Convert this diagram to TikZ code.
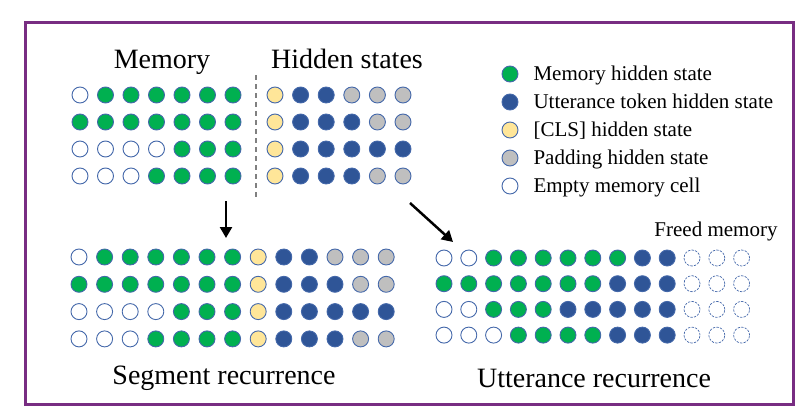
\documentclass[tikz,border=0pt]{standalone}
\usepackage{fontspec}
\setmainfont{Liberation Serif}
\usetikzlibrary{arrows.meta}
\definecolor{memgreen}{RGB}{0,176,80}
\definecolor{uttblue}{RGB}{47,85,151}
\definecolor{clsyellow}{RGB}{255,230,153}
\definecolor{padgray}{RGB}{191,191,191}
\definecolor{rimblue}{RGB}{68,104,170}
\definecolor{framepurple}{RGB}{120,45,130}
\tikzset{
	cell/.style={circle,draw=rimblue,line width=0.9pt,minimum size=16pt,inner sep=0pt},
	memst/.style={cell,fill=memgreen},
	uttst/.style={cell,fill=uttblue},
	clsst/.style={cell,fill=clsyellow},
	padst/.style={cell,fill=padgray},
	empst/.style={cell,fill=white},
	freest/.style={cell,dash pattern=on 2pt off 1.6pt,line width=0.7pt},
	bigtitle/.style={font=\fontsize{28}{32}\selectfont,anchor=base},
	legtext/.style={font=\fontsize{21}{24}\selectfont,anchor=base west},
}

\begin{document}
\begin{tikzpicture}[line cap=round,line join=round,x=1pt,y=-1pt]
	\useasboundingbox (0,0) rectangle (812,415);
	\draw [framepurple,line width=3pt,line cap=butt,line join=miter] (25,22) rectangle (793,404);

	% top: memory and hidden states
	\node [bigtitle] (memtitle) at (162,68) {Memory};
	\node [bigtitle] (hidtitle) at (347,68) {Hidden states};
	\foreach \row [count=\j] in {{empst,memst,memst,memst,memst,memst,memst},{memst,memst,memst,memst,memst,memst,memst},{empst,empst,empst,empst,memst,memst,memst},{empst,empst,empst,memst,memst,memst,memst}}
		\foreach \st [count=\i] in \row
			\node [\st] (tm-\j-\i) at ({80+25.5*(\i-1)},{95+27*(\j-1)}) {};
	\foreach \row [count=\j] in {{clsst,uttst,uttst,padst,padst,padst},{clsst,uttst,uttst,uttst,padst,padst},{clsst,uttst,uttst,uttst,uttst,uttst},{clsst,uttst,uttst,uttst,padst,padst}}
		\foreach \st [count=\i] in \row
			\node [\st] (th-\j-\i) at ({275+25.6*(\i-1)},{95+27*(\j-1)}) {};
	\coordinate (septop) at (256,75);
	\coordinate (sepbot) at (256,197);
	\draw [gray,line width=1.3pt,line cap=butt,dash pattern=on 5pt off 4pt] (septop) -- (sepbot);

	% legend
	\foreach \st/\txt [count=\k] in {memst/Memory hidden state,uttst/Utterance token hidden state,clsst/{[CLS] hidden state},padst/Padding hidden state,empst/Empty memory cell} {
		\node [\st] (leg-\k) at (510,{74+28*(\k-1)}) {};
		\node [legtext] (legtxt-\k) at (530,{80+28*(\k-1)}) {\txt};
	}

	% arrows
	\coordinate (segfrom) at (226,201);
	\coordinate (segto) at (226,238);
	\coordinate (uttfrom) at (410,203);
	\coordinate (uttto) at (453,242);
	\draw [-{Triangle[length=11pt,width=12pt]},line width=2.5pt,line cap=butt] (segfrom) -- (segto);
	\draw [-{Triangle[length=11pt,width=12pt]},line width=2.5pt,line cap=butt] (uttfrom) -- (uttto);

	% bottom left: segment recurrence
	\foreach \row [count=\j] in {{empst,memst,memst,memst,memst,memst,memst,clsst,uttst,uttst,padst,padst,padst},{memst,memst,memst,memst,memst,memst,memst,clsst,uttst,uttst,uttst,padst,padst},{empst,empst,empst,empst,memst,memst,memst,clsst,uttst,uttst,uttst,uttst,uttst},{empst,empst,empst,memst,memst,memst,memst,clsst,uttst,uttst,uttst,padst,padst}}
		\foreach \st [count=\i] in \row
			\node [\st] (sg-\j-\i) at ({79+25.6*(\i-1)},{257+27.3*(\j-1)}) {};
	\node [bigtitle] (segtitle) at (224,384) {Segment recurrence};

	% bottom right: utterance recurrence
	\node [legtext,anchor=base] (freed) at (716,236) {Freed memory};
	\foreach \row [count=\j] in {{empst,empst,memst,memst,memst,memst,memst,memst,uttst,uttst,freest,freest,freest},{memst,memst,memst,memst,memst,memst,memst,uttst,uttst,uttst,freest,freest,freest},{empst,empst,memst,memst,memst,uttst,uttst,uttst,uttst,uttst,freest,freest,freest},{empst,empst,empst,memst,memst,memst,memst,uttst,uttst,uttst,freest,freest,freest}}
		\foreach \st [count=\i] in \row
			\node [\st] (ut-\j-\i) at ({444+24.8*(\i-1)},{258+25.7*(\j-1)}) {};
	\node [bigtitle] (utttitle) at (594,387) {Utterance recurrence};
\end{tikzpicture}
\end{document}
